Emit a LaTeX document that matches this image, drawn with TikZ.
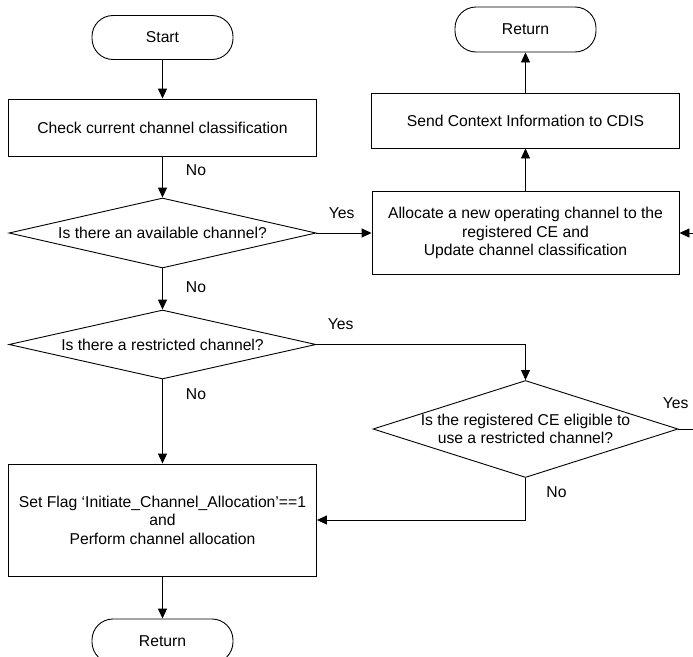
\documentclass[tikz,border=0pt]{standalone}
\usepackage{fontspec}
\setmainfont{Liberation Sans}
\usetikzlibrary{shapes.geometric,arrows.meta}
\begin{document}
\begin{tikzpicture}[x=1pt,y=-1pt,
  base/.style={draw=black, line width=0.9pt, font=\fontsize{15.7pt}{18.5pt}\selectfont, align=center, inner sep=0pt},
  term/.style={base, rectangle, rounded corners=21pt, minimum width=141pt, minimum height=44pt},
  proc/.style={base, rectangle, minimum width=308pt},
  dec/.style={base, diamond, aspect=2, inner xsep=-60pt, inner ysep=0pt},
  arr/.style={draw=black, line width=0.9pt, -{Triangle[length=10pt,width=9pt]}},
  lbl/.style={font=\fontsize{15.7pt}{18.5pt}\selectfont, inner sep=0pt, anchor=base west}]
\useasboundingbox (0,0) rectangle (693,656);
\fill[white] (0,0) rectangle (693,656);
\clip (0,0) rectangle (693,656);

\node[term] (start) at (162.5,37.5) {Start};
\node[proc, minimum height=57pt] (check) at (162.5,127.5) {Check current channel classification};
\node[dec, minimum width=307pt, minimum height=70pt] (d1) at (162.5,233) {Is there an available channel?};
\node[dec, minimum width=307pt, minimum height=69pt] (d2) at (162.5,344.5) {Is there a restricted channel?};
\node[proc, minimum height=112pt] (set) at (162.5,520) {Set Flag ‘Initiate\_Channel\_Allocation’==1\\and\\Perform channel allocation};
\node[term] (ret2) at (162.5,641) {Return};

\node[term, minimum height=45pt] (ret1) at (525.5,29.5) {Return};
\node[proc, minimum height=55pt] (send) at (525.5,120.5) {Send Context Information to CDIS};
\node[proc, minimum width=307pt, minimum height=83pt] (alloc) at (525.5,233) {Allocate a new operating channel to the\\registered CE and\\Update channel classification};
\node[dec, minimum width=305pt, minimum height=97pt] (d3) at (525.5,429) {Is the registered CE eligible to\\use a restricted channel?};

\coordinate (offbot) at (720,429);
\coordinate (offtop) at (720,233);

\draw[arr] (start) -- (check);
\draw[arr] (check) -- node[lbl, pos=0.47, xshift=23pt] {No} (d1);
\draw[arr] (d1.east) -- node[lbl, pos=0, xshift=12pt, yshift=15pt] {Yes} (d1.east -| alloc.west);
\draw[arr] (alloc) -- (send);
\draw[arr] (send) -- (ret1);
\draw[arr] (d1) -- node[lbl, pos=0.59, xshift=23pt] {No} (d2);
\draw[arr] (d2.east) -| node[lbl, pos=0, xshift=11pt, yshift=15pt] {Yes} (d3.north);
\draw[arr] (d2) -- node[lbl, pos=0.235, xshift=23pt] {No} (set);
\draw[arr] (d3.south) |- node[lbl, pos=0, xshift=20.5pt, yshift=-19.2pt] {No} (set.east);
\draw[arr] (d3.east) -- node[lbl, pos=0, xshift=-16pt, yshift=21pt] {Yes} (offbot) -- (offtop) -- (alloc.east);
\draw[arr] (set) -- (ret2);
\end{tikzpicture}
\end{document}
